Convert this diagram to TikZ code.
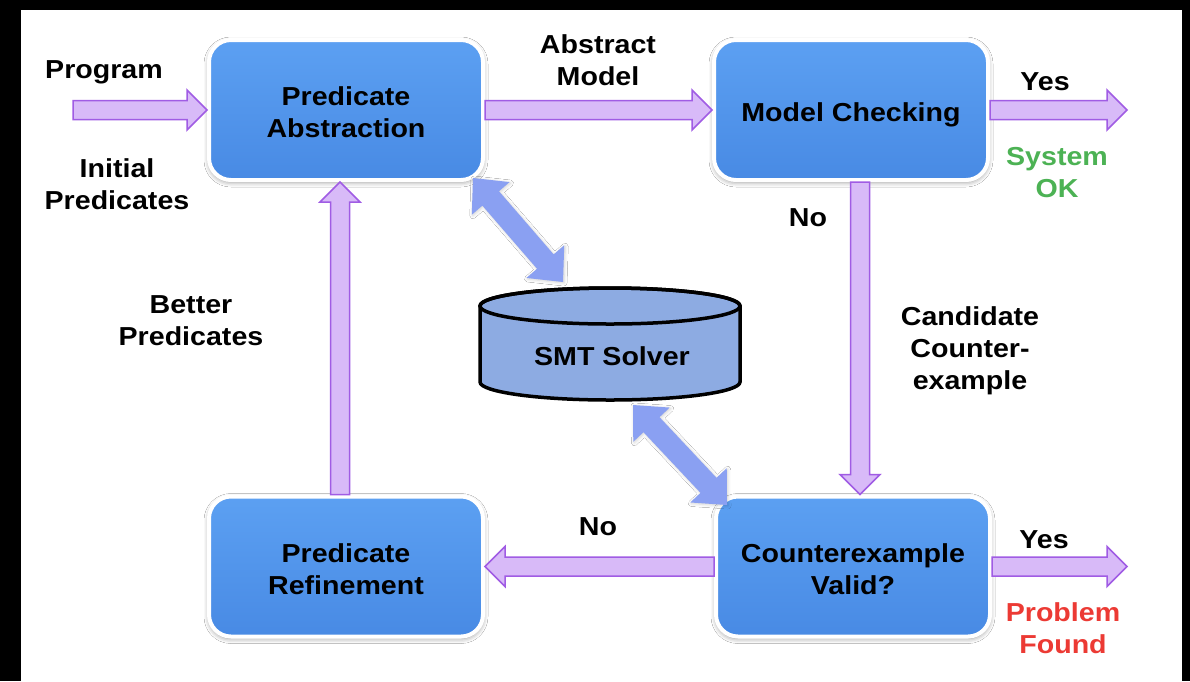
\documentclass[tikz,border=0pt]{standalone}
\usepackage{fontspec}
\setmainfont{Liberation Sans}[FakeStretch=1.1]
\usetikzlibrary{calc,shadows.blur}

\definecolor{boxtop}{RGB}{92,160,242}
\definecolor{boxbot}{RGB}{72,138,228}
\definecolor{flowfill}{RGB}{216,186,248}
\definecolor{flowedge}{RGB}{160,92,228}
\definecolor{linkfill}{RGB}{138,160,242}
\definecolor{solverfill}{RGB}{141,171,226}
\definecolor{okgreen}{RGB}{76,178,84}
\definecolor{failred}{RGB}{236,58,52}

\begin{document}
\begin{tikzpicture}[x=1pt,y=-1pt,
  every node/.style={font=\bfseries\fontsize{26}{32}\selectfont, align=center, inner sep=0pt},
  stage/.style={rectangle, rounded corners=22pt, minimum width=274pt, minimum height=140pt,
    draw=white, line width=4pt, top color=boxtop, bottom color=boxbot,
    blur shadow={shadow xshift=0pt, shadow yshift=-2pt, shadow blur radius=5pt, shadow opacity=45}},
  arrowgeom/.code n args={3}{\def\baw{#1}\def\baH{#2}\def\bah{#3}},
  % single-headed block arrow from start to target
  flow/.style={arrowgeom={9.5pt}{20pt}{20pt}, fill=flowfill, draw=flowedge, line width=1.5pt,
    to path={let \p1=(\tikztostart), \p2=(\tikztotarget), \p3=($(\p2)!\bah!(\p1)$) in
      ($(\p1)!\baw!90:(\p2)$) -- ($(\p3)!\baw!-90:(\p1)$) -- ($(\p3)!\baH!-90:(\p1)$) -- (\p2)
      -- ($(\p3)!\baH!90:(\p1)$) -- ($(\p3)!\baw!90:(\p1)$) -- ($(\p1)!\baw!-90:(\p2)$) -- cycle}},
  % double-headed block arrow to and from the solver
  link/.style={arrowgeom={11pt}{25pt}{27pt}, fill=linkfill,
    blur shadow={shadow xshift=1pt, shadow yshift=-1pt, shadow blur radius=3pt, shadow opacity=18},
    to path={let \p1=(\tikztostart), \p2=(\tikztotarget), \p3=($(\p2)!\bah!(\p1)$), \p4=($(\p1)!\bah!(\p2)$) in
      (\p1) -- ($(\p4)!\baH!90:(\p2)$) -- ($(\p4)!\baw!90:(\p2)$) -- ($(\p3)!\baw!-90:(\p1)$)
      -- ($(\p3)!\baH!-90:(\p1)$) -- (\p2) -- ($(\p3)!\baH!90:(\p1)$) -- ($(\p3)!\baw!90:(\p1)$)
      -- ($(\p4)!\baw!-90:(\p2)$) -- ($(\p4)!\baH!-90:(\p2)$) -- cycle}},
  solver/.style={fill=solverfill, draw=black, line width=3.5pt}
]
\useasboundingbox (0,0) rectangle (1190,681);
% frame
\fill[black] (0,0) rectangle (1190,681);
\fill[white] (21,10) rectangle (1182,681);

% stages
\node[stage] (pa) at (346,110) {\rule{0pt}{24pt}Predicate\\Abstraction};
\node[stage, text height=22pt, text depth=0pt] (mc) at (851,110) {Model Checking};
\node[stage] (pr) at (346,566.5) {\rule{0pt}{24pt}Predicate\\Refinement};
\node[stage] (cv) at (853,566.5) {\rule{0pt}{24pt}Counterexample\\Valid?};

% solver cylinder
\filldraw[solver] (480,306) -- (480,382)
  .. controls (480,391.9) and (538.2,400) .. (610,400)
  .. controls (681.8,400) and (740,391.9) .. (740,382) -- (740,306)
  .. controls (740,296.1) and (681.8,288) .. (610,288)
  .. controls (538.2,288) and (480,296.1) .. (480,306) -- cycle;
\draw[draw=black, line width=3.5pt] (610,306) ellipse [x radius=130, y radius=18];
\node (smt) at (612,356) {SMT Solver};

% free ends
\coordinate (progin) at (73,110);
\coordinate (okout) at (1127,110);
\coordinate (probout) at (1127,566.5);
\coordinate (sa) at (473,178);
\coordinate (sb) at (563,282);
\coordinate (sc) at (633,405);
\coordinate (sd) at (727,505);

% flow arrows
\draw[flow] (progin) to (pa.west);
\draw[flow] (pa.east) to (mc.west);
\draw[flow] (mc.east) to (okout);
\draw[flow] ($(mc.south)+(9,0)$) to ($(cv.north)+(7,0)$);
\draw[flow] (cv.west) to (pr.east);
\draw[flow] (cv.east) to (probout);
\draw[flow] ($(pr.north)+(-6,0)$) to ($(pa.south)+(-6,0)$);

% solver queries
\path[link] (sa) to (sb);
\path[link] (sc) to (sd);

% labels (multi-line labels are placed by the baseline of their last line)
\node[anchor=base] (lprog) at (104,78) {Program};
\node[anchor=base] (linit) at (117,209) {Initial\\Predicates};
\node[anchor=base] (labs) at (598,85) {Abstract\\Model};
\node[anchor=base] (lyes1) at (1045,90) {Yes};
\node[anchor=base, text=okgreen] (lok) at (1057,197) {System\\OK};
\node[anchor=base] (lno1) at (808,226) {No};
\node[anchor=base] (lbetter) at (191,345) {Better\\Predicates};
\node[anchor=base] (lcand) at (970,389) {Candidate\\Counter-\\example};
\node[anchor=base] (lno2) at (598,535) {No};
\node[anchor=base] (lyes2) at (1044,548) {Yes};
\node[anchor=base, text=failred] (lprob) at (1063,653) {Problem\\Found};
\end{tikzpicture}
\end{document}
